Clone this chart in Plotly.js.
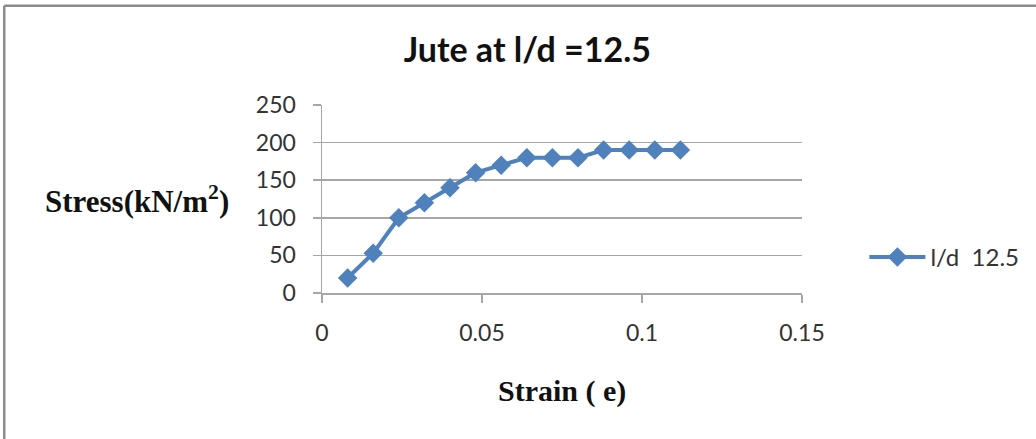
<!DOCTYPE html>
<html>
<head>
<meta charset="utf-8">
<script src="https://cdn.plot.ly/plotly-3.0.1.min.js"></script>
<style>
  html, body { margin: 0; padding: 0; background: #fff; }
  #chart { width: 1036px; height: 439px; }
</style>
</head>
<body>
<div id="chart"></div>
<script>
// Stress–strain readings for jute fibre at l/d = 12.5
const strain = [0.008, 0.016, 0.024, 0.032, 0.040, 0.048, 0.056, 0.064, 0.072, 0.080, 0.088, 0.096, 0.104, 0.112];
const stress = [20, 53, 100, 120, 140, 160, 170, 180, 180, 180, 190, 190, 190, 190];
const seriesName = 'l/d\u00a0 12.5';
const yTicks = [0, 50, 100, 150, 200, 250];
const xTicks = [0, 0.05, 0.1, 0.15];
const xTickText = ['0', '0.05', '0.1', '0.15'];

const blue = '#4F81BD';
const gridGray = '#A6A6A6';
const sans = 'Lato, "Open Sans", sans-serif';
const serif = '"Liberation Serif", "Times New Roman", serif';
const tickFont = { family: sans, size: 23, color: '#333333' };

const trace = {
  x: strain,
  y: stress,
  name: seriesName,
  type: 'scatter',
  mode: 'lines+markers',
  line: { color: blue, width: 4 },
  marker: { symbol: 'diamond', size: 15, color: blue },
  showlegend: true
};

const layout = {
  width: 1036,
  height: 439,
  margin: { l: 322, r: 234, t: 105, b: 146 },
  paper_bgcolor: '#ffffff',
  plot_bgcolor: '#ffffff',
  title: {
    text: 'Jute at l/d =12.5',
    font: { family: sans, size: 34, color: '#111111', weight: 'bold' },
    x: 0.509, xanchor: 'center',
    y: 0.886, yanchor: 'middle'
  },
  xaxis: {
    range: [0, 0.15],
    tickvals: xTicks,
    ticktext: xTickText,
    ticks: 'outside',
    ticklen: 8,
    tickcolor: gridGray,
    tickwidth: 1.5,
    showgrid: false,
    zeroline: false,
    showline: true,
    linecolor: gridGray,
    linewidth: 1.5,
    tickfont: tickFont,
    ticklabelstandoff: 11,
    fixedrange: true
  },
  yaxis: {
    range: [0, 250],
    tickvals: yTicks,
    ticks: 'outside',
    ticklen: 8,
    tickcolor: gridGray,
    tickwidth: 1.5,
    showgrid: true,
    gridcolor: gridGray,
    gridwidth: 1.5,
    zeroline: false,
    showline: true,
    linecolor: gridGray,
    linewidth: 1.5,
    tickfont: tickFont,
    ticklabelstandoff: 12,
    fixedrange: true
  },
  legend: {
    x: 1.13, xanchor: 'left',
    y: 0.19, yanchor: 'middle',
    font: { family: sans, size: 24, color: '#333333' },
    bgcolor: 'rgba(0,0,0,0)',
    itemwidth: 56
  },
  annotations: [
    {
      text: 'Stress(kN/m<sup>2</sup>)',
      xref: 'paper', yref: 'paper',
      x: -0.385, y: 0.495,
      xanchor: 'center', yanchor: 'middle',
      showarrow: false,
      font: { family: serif, size: 31, color: '#111111', weight: 'bold' }
    },
    {
      text: 'Strain ( e)',
      xref: 'paper', yref: 'paper',
      x: 0.5, y: -0.52,
      xanchor: 'center', yanchor: 'middle',
      showarrow: false,
      font: { family: serif, size: 30, color: '#111111', weight: 'bold' }
    }
  ],
  shapes: [
    // outer chart frame: top and left edges
    { type: 'line', xref: 'paper', yref: 'paper', x0: -0.662, x1: 1.6, y0: 1.528, y1: 1.528,
      line: { color: '#8C8C8C', width: 2.5 } },
    { type: 'line', xref: 'paper', yref: 'paper', x0: -0.662, x1: -0.662, y0: 1.528, y1: -0.9,
      line: { color: '#8C8C8C', width: 2.5 } }
  ]
};

Plotly.newPlot('chart', [trace], layout, { staticPlot: true, displayModeBar: false });
</script>
</body>
</html>
